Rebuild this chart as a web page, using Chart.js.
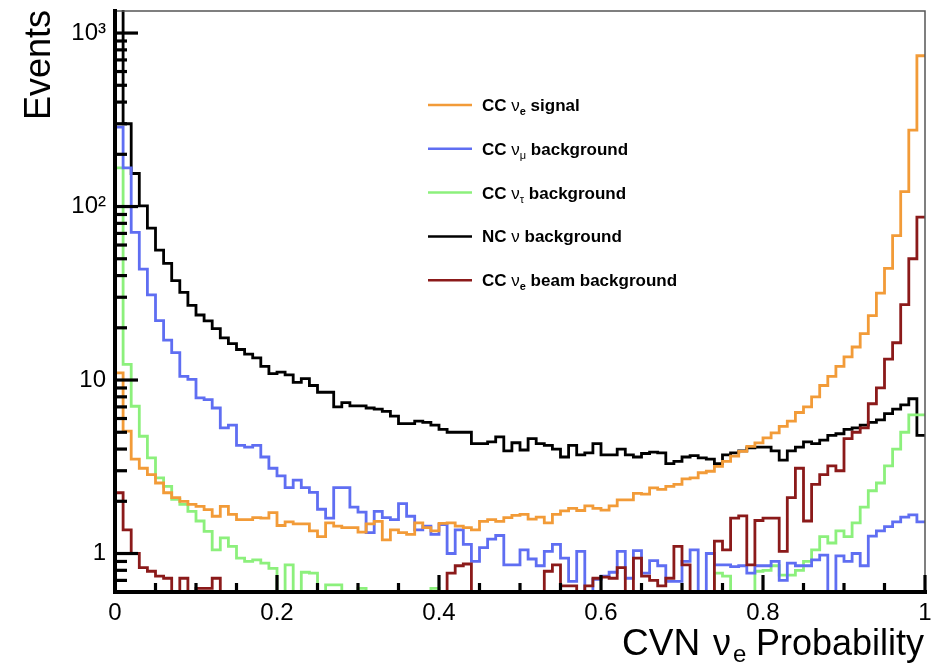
<!DOCTYPE html>
<html>
<head>
<meta charset="utf-8">
<script src="https://cdn.jsdelivr.net/npm/chart.js@4.4.1/dist/chart.umd.min.js"></script>
<style>
html,body{margin:0;padding:0;background:#ffffff;}
#wrap{width:933px;height:664px;}
</style>
</head>
<body>
<div id="wrap"><canvas id="chart" width="933" height="664"></canvas></div>
<script>
const FONT = '"Liberation Sans", Arial, Helvetica, sans-serif';

// ---- data ----
const N_BINS = 100;                       // 100 bins of width 0.01 on [0,1]
const binLowEdges = Array.from({length: N_BINS}, (_, i) => i / N_BINS);
const xTickValues = [0, 0.2, 0.4, 0.6, 0.8, 1];
const xTickLabels = ['0', '0.2', '0.4', '0.6', '0.8', '1'];
const yTickValues = [1, 10, 100, 1000];
const yTickLabels = ['1', '10', '10\u00B2', '10\u00B3'];
const Y_MIN = 0.6, Y_MAX = 1340;

const seriesNames = ['CC \u03BDe signal', 'CC \u03BD\u03BC background', 'CC \u03BD\u03C4 background', 'NC \u03BD background', 'CC \u03BDe beam background'];
const seriesColors = ['#f29b38', '#5f6ef2', '#8cf07c', '#000000', '#8b1a1a'];
const legendParts = [
  [['CC ', 'b'], ['\u03BD', 'n'], ['e', 'sb'], [' signal', 'b']],
  [['CC ', 'b'], ['\u03BD', 'n'], ['\u03BC', 'sn'], [' background', 'b']],
  [['CC ', 'b'], ['\u03BD', 'n'], ['\u03C4', 'sn'], [' background', 'b']],
  [['NC ', 'b'], ['\u03BD', 'n'], [' background', 'b']],
  [['CC ', 'b'], ['\u03BD', 'n'], ['e', 'sb'], [' beam background', 'b']]
];

const ccNueSignal = [
  11, 5.07, 3.5, 3.1, 2.85, 2.55, 2.24, 2.1, 2.0, 1.92,
  1.87, 1.79, 1.64, 1.87, 1.68, 1.57, 1.57, 1.61, 1.6, 1.72,
  1.45, 1.52, 1.48, 1.48, 1.35, 1.25, 1.5, 1.44, 1.41, 1.41,
  1.33, 1.48, 1.53, 1.2, 1.37, 1.32, 1.29, 1.5, 1.41, 1.35,
  1.49, 1.5, 1.44, 1.41, 1.37, 1.53, 1.57, 1.53, 1.61, 1.66,
  1.68, 1.58, 1.62, 1.5, 1.68, 1.76, 1.82, 1.77, 1.88, 1.82,
  1.78, 1.88, 2.04, 2.04, 2.22, 2.2, 2.39, 2.34, 2.44, 2.5,
  2.69, 2.73, 2.92, 2.98, 3.18, 3.4, 3.64, 3.88, 4.15, 4.34,
  4.64, 4.96, 5.4, 5.8, 6.5, 7.0, 8.0, 9.3, 10.5, 12.0,
  13.6, 15.5, 18.5, 23.5, 31.7, 44, 68, 122, 276, 740
];
const ccNumuBkg = [
  287, 167, 71, 43.6, 31, 22, 17, 14.4, 10.5, 10.1,
  7.9, 7.7, 6.9, 5.3, 5.5, 4.2, 4.1, 4.2, 3.6, 3.1,
  2.8, 2.4, 2.65, 2.4, 2.25, 1.8, 1.6, 2.4, 2.4, 1.85,
  1.73, 1.32, 1.75, 1.61, 1.57, 1.94, 1.64, 1.37, 1.44, 1.29,
  1.47, 1.0, 1.37, 1.13, 0.9, 1.08, 1.21, 1.27, 0.86, 0.86,
  1.05, 0.93, 0.85, 1.03, 1.13, 0.94, 0.69, 1.03, 0, 0.71,
  0.74, 0.78, 1.03, 0.72, 1.04, 0.77, 0.91, 0.85, 0.69, 0.69,
  0.9, 1.05, 0, 1.0, 0.86, 0.86, 0.84, 0.85, 0.77, 0.85,
  0.85, 0.9, 0.7, 0.88, 0.85, 0.85, 0.92, 0.98, 0, 0.97,
  0.9, 1.0, 0.85, 1.26, 1.35, 1.43, 1.52, 1.62, 1.67, 1.52
];
const ccNutauBkg = [
  167, 12.3, 7.06, 4.74, 3.56, 2.73, 2.44, 2.05, 1.92, 1.75,
  1.54, 1.34, 1.05, 1.23, 1.1, 0.94, 0.9, 0.92, 0.88, 0.82,
  0, 0.86, 0, 0.78, 0.77, 0, 0.66, 0.66, 0, 0,
  0.63, 0, 0, 0, 0, 0, 0, 0, 0, 0.63,
  0, 0, 0, 0, 0, 0, 0, 0, 0, 0,
  0, 0, 0, 0, 0, 0, 0, 0, 0, 0,
  0, 0, 0, 0, 0, 0, 0, 0, 0, 0,
  0, 0, 0, 0, 0.77, 0.74, 0, 0, 0, 0.79,
  0.8, 0.85, 0.75, 0.75, 0.8, 0.9, 1.05, 1.25, 1.15, 1.35,
  1.25, 1.5, 1.85, 2.3, 2.55, 3.2, 4.0, 5.0, 6.3, 6.3
];
const ncBkg = [
  3000, 300, 155, 101, 75, 56, 47, 37.4, 32, 26.9,
  23.7, 21.9, 19.8, 17.5, 16.2, 15, 14.1, 13.4, 12.0, 10.9,
  11.1, 10.7, 9.7, 10.2, 9.3, 8.5, 8.5, 7.0, 7.4, 7.1,
  7.1, 6.9, 6.8, 6.6, 6.2, 5.6, 5.6, 5.8, 5.7, 5.5,
  5.2, 5.0, 5.0, 5.0, 4.3, 4.3, 4.4, 4.7, 3.9, 4.35,
  3.95, 4.6, 4.3, 4.2, 4.0, 3.6, 4.2, 3.7, 3.8, 4.3,
  3.7, 3.7, 4.0, 3.7, 3.6, 3.77, 3.84, 3.8, 3.3, 3.4,
  3.6, 3.67, 3.56, 3.5, 3.3, 3.7, 3.8, 3.9, 4.06, 4.1,
  4.1, 3.9, 3.45, 3.9, 4.1, 4.4, 4.3, 4.5, 4.8, 4.9,
  5.2, 5.3, 5.5, 5.7, 5.9, 6.4, 6.8, 7.2, 7.8, 4.8
];
const ccNueBeamBkg = [
  2.24, 1.37, 1.0, 0.83, 0.79, 0.74, 0.72, 0, 0.72, 0,
  0.63, 0.63, 0.72, 0, 0, 0, 0, 0, 0, 0,
  0, 0, 0, 0, 0, 0, 0, 0, 0, 0,
  0, 0, 0, 0, 0, 0, 0, 0, 0, 0,
  0, 0.77, 0.85, 0.87, 0, 0, 0, 0, 0, 0,
  0, 0, 0, 0.79, 0.86, 0.65, 0.65, 0, 0.65, 0.72,
  0.73, 0.72, 0.83, 0, 0.94, 0.74, 0.7, 0.65, 0.72, 1.1,
  0.86, 0, 0, 0, 1.18, 1.05, 1.6, 1.65, 0.86, 1.55,
  1.6, 1.6, 1.03, 2.1, 3.1, 1.54, 2.5, 2.85, 3.2, 3.0,
  4.6, 5.0, 5.3, 7.3, 9.0, 13.2, 16.4, 27.2, 50, 87
];

const seriesValues = [ccNueSignal, ccNumuBkg, ccNutauBkg, ncBkg, ccNueBeamBkg];
const drawOrder = [0, 2, 3, 4, 1]; // lower = drawn on top

// ---- histogram outlines (step lines through bin low edges + upper edge) ----
const asY = v => (v > 0 ? v : Y_MIN);
const datasets = seriesValues.map((vals, s) => ({
  label: seriesNames[s],
  data: binLowEdges.map((x, i) => ({x: x, y: asY(vals[i])}))
        .concat([{x: 1, y: asY(vals[N_BINS - 1])}]),
  borderColor: seriesColors[s],
  backgroundColor: seriesColors[s],
  borderWidth: 2.8,
  pointRadius: 0,
  fill: false,
  stepped: 'before',
  tension: 0,
  clip: 1,
  order: drawOrder[s]
}));

// ---- frame, inside ticks, legend and axis titles (ROOT style) ----
const rootFrame = {
  id: 'rootFrame',
  afterDatasetsDraw(chart) {
    const {ctx, chartArea: a, scales} = chart;
    const xs = scales.x, ys = scales.y;
    ctx.save();
    // thin top / right border
    ctx.strokeStyle = '#555';
    ctx.lineWidth = 1.5;
    ctx.beginPath();
    ctx.moveTo(a.left, a.top); ctx.lineTo(a.right, a.top); ctx.lineTo(a.right, a.bottom);
    ctx.stroke();
    // thick axes
    ctx.strokeStyle = '#000';
    ctx.lineWidth = 4;
    ctx.lineCap = 'square';
    ctx.beginPath();
    ctx.moveTo(a.left, a.top); ctx.lineTo(a.left, a.bottom); ctx.lineTo(a.right, a.bottom);
    ctx.stroke();
    ctx.lineCap = 'butt';
    ctx.lineWidth = 3.2;
    // x ticks (inside): minor every 0.05, major every 0.2
    for (let k = 0; k <= 20; k++) {
      const px = xs.getPixelForValue(k * 0.05);
      const len = (k % 4 === 0) ? 17 : 9;
      ctx.beginPath(); ctx.moveTo(px, a.bottom); ctx.lineTo(px, a.bottom - len); ctx.stroke();
    }
    // y ticks (inside): major at decades, minor at 2..9
    for (let d = -1; d <= 3; d++) {
      for (let m = 1; m <= 9; m++) {
        const v = m * Math.pow(10, d);
        if (v <= ys.min * 1.001 || v > ys.max) continue;
        const py = ys.getPixelForValue(v);
        const len = (m === 1) ? 23 : 12;
        ctx.beginPath(); ctx.moveTo(a.left, py); ctx.lineTo(a.left + len, py); ctx.stroke();
      }
    }
    // legend
    const lx0 = 428, lx1 = 472, tx = 482, ly0 = 105, dy = 43.8;
    chart.data.datasets.forEach((ds, i) => {
      const yy = ly0 + i * dy;
      ctx.strokeStyle = ds.borderColor;
      ctx.lineWidth = 2.5;
      ctx.beginPath(); ctx.moveTo(lx0, yy); ctx.lineTo(lx1, yy); ctx.stroke();
      let x = tx;
      const base = yy + 6;
      ctx.fillStyle = '#000';
      ctx.textBaseline = 'alphabetic';
      ctx.textAlign = 'left';
      for (const [t, kind] of legendParts[i]) {
        let yb = base;
        if (kind === 'b') ctx.font = 'bold 17px ' + FONT;
        else if (kind === 'n') ctx.font = '17px ' + FONT;
        else if (kind === 'sb') { ctx.font = 'bold 11px ' + FONT; yb = base + 4; }
        else { ctx.font = '11px ' + FONT; yb = base + 4; }
        ctx.fillText(t, x, yb);
        x += ctx.measureText(t).width;
      }
    });
    // x title: CVN nu_e Probability
    ctx.fillStyle = '#000';
    ctx.textBaseline = 'alphabetic';
    ctx.font = '37px ' + FONT;
    ctx.textAlign = 'left';
    ctx.fillText('CVN', 622, 655);
    ctx.font = '36px ' + FONT;
    ctx.fillText('\u03BD', 713, 655);
    ctx.font = '24px ' + FONT;
    ctx.fillText('e', 733, 662);
    ctx.font = '36px ' + FONT;
    ctx.textAlign = 'right';
    ctx.fillText('Probability', 924, 655);
    // y title: Events (rotated)
    ctx.save();
    ctx.translate(50, 10);
    ctx.rotate(-Math.PI / 2);
    ctx.textAlign = 'right';
    ctx.font = '36px ' + FONT;
    ctx.fillText('Events', 0, 0);
    ctx.restore();
    ctx.restore();
  }
};

new Chart(document.getElementById('chart'), {
  type: 'line',
  data: {datasets: datasets},
  plugins: [rootFrame],
  options: {
    responsive: false,
    animation: false,
    devicePixelRatio: 1,
    events: [],
    layout: {padding: {top: 11, right: 8, left: 0, bottom: 0}},
    plugins: {legend: {display: false}, tooltip: {enabled: false}, title: {display: false}},
    scales: {
      x: {
        type: 'linear', min: 0, max: 1,
        grid: {display: false, drawTicks: false},
        border: {display: false},
        afterBuildTicks: s => { s.ticks = xTickValues.map(v => ({value: v})); },
        afterFit: s => { s.height = 72; s.paddingLeft = 0; s.paddingRight = 0; s.paddingTop = 0; s.paddingBottom = 0; },
        ticks: {callback: (v, i) => xTickLabels[i], font: {family: FONT, size: 24}, color: '#000', padding: 7, maxRotation: 0, autoSkip: false}
      },
      y: {
        type: 'logarithmic', min: Y_MIN, max: Y_MAX,
        grid: {display: false, drawTicks: false},
        border: {display: false},
        afterBuildTicks: s => { s.ticks = yTickValues.map(v => ({value: v})); },
        afterFit: s => { s.width = 115; s.paddingLeft = 0; s.paddingRight = 0; s.paddingTop = 0; s.paddingBottom = 0; },
        ticks: {callback: (v, i) => yTickLabels[i], font: {family: FONT, size: 24}, color: '#000', padding: 9, autoSkip: false}
      }
    }
  }
});
</script>
</body>
</html>
